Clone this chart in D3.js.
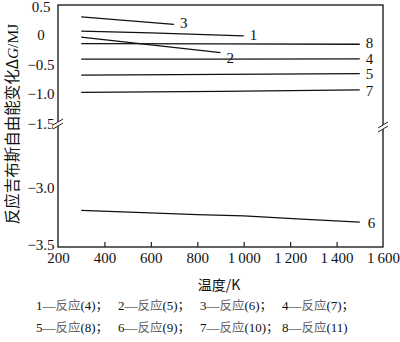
<!DOCTYPE html>
<html><head><meta charset="utf-8">
<script src="https://cdn.jsdelivr.net/npm/d3@7"></script>
<style>body{margin:0;background:#fff}svg{display:block}</style>
</head><body>
<svg id="c" width="400" height="342"></svg>
<script>
// ---- data ----
const xTicks = [200, 400, 600, 800, 1000, 1200, 1400, 1600];
const xTickLabels = ["200", "400", "600", "800", "1\u2009000", "1\u2009200", "1\u2009400", "1\u2009600"];
const yTopTicks = [0.5, 0, -0.5, -1.0, -1.5];
const yTopLabels = ["0.5", "0", "\u22120.5", "\u22121.0", "\u22121.5"];
const yBotTicks = [-3.0, -3.5];
const yBotLabels = ["\u22123.0", "\u22123.5"];
const seriesNames = ["1", "2", "3", "4", "5", "6", "7", "8"];
const s1T = [300, 600, 1000], s1V = [0.06, 0.03, -0.02];
const s2T = [300, 600, 900], s2V = [-0.04, -0.17, -0.30];
const s3T = [300, 700], s3V = [0.30, 0.175];
const s4T = [300, 900, 1500], s4V = [-0.41, -0.41, -0.405];
const s5T = [300, 900, 1500], s5V = [-0.68, -0.665, -0.655];
const s6T = [300, 800, 1000, 1250, 1500], s6V = [-3.19, -3.225, -3.237, -3.263, -3.29];
const s7T = [300, 900, 1500], s7V = [-0.97, -0.95, -0.925];
const s8T = [300, 900, 1500], s8V = [-0.15, -0.155, -0.16];
const legendRow1 = [["1", "(4)；"], ["2", "(5)；"], ["3", "(6)；"], ["4", "(7)；"]];
const legendRow2 = [["5", "(8)；"], ["6", "(9)；"], ["7", "(10)；"], ["8", "(11)"]];
const xTitle = "温度/K";
const yTitleCn = "反应吉布斯自由能变化";

// ---- layout ----
const L = 58, R = 383, T = 5, B = 247, BRK = 124;
const x = d3.scaleLinear().domain([200, 1600]).range([L, R]);
const yTop = d3.scaleLinear().domain([-1.5, 0.5]).range([BRK, T]);
const yBot = d3.scaleLinear().domain([-3.5, -3.0]).range([B, 188]);
const y = v => v >= -1.6 ? yTop(v) : yBot(v);

const serif = "'Liberation Serif','Times New Roman',serif";
const cjk = "'Noto Sans CJK SC','Liberation Serif',serif";
const svg = d3.select("#c");

// frame
const ax = "#222";
svg.append("rect").attr("x", L).attr("y", T).attr("width", R - L).attr("height", B - T)
  .attr("fill", "none").attr("stroke", ax).attr("stroke-width", 1.4);

// x ticks (inward) and labels
const xAxis = d3.axisBottom(x).tickValues(xTicks).tickSizeInner(-5).tickSizeOuter(0)
  .tickFormat((d, i) => xTickLabels[i]);
const gx = svg.append("g").attr("transform", `translate(0,${B})`).call(xAxis);
gx.select(".domain").remove();
gx.selectAll(".tick line").attr("stroke", ax).attr("stroke-width", 1.2)
  .filter(d => d === 200 || d === 1600).remove();
gx.selectAll(".tick text").attr("font-family", serif).attr("font-size", 15).attr("fill", "#111").attr("dy", 0).attr("y", 16);

// y labels
const yLab = svg.append("g").attr("font-family", serif).attr("font-size", 15).attr("fill", "#111").attr("text-anchor", "middle");
yTopTicks.forEach((t, i) => yLab.append("text").attr("x", 41).attr("y", yTop(t) + (i === 0 ? 7 : 5)).text(yTopLabels[i]));
yBotTicks.forEach((t, i) => yLab.append("text").attr("x", 41).attr("y", yBot(t) + (i === 1 ? 3 : 5)).text(yBotLabels[i]));

// break marks
function brk(cx, cy) {
  const g = svg.append("g");
  g.append("polygon").attr("points", `${cx-5},${cy+3} ${cx+5},${cy-3} ${cx+5},${cy+1} ${cx-5},${cy+7}`).attr("fill", "#fff");
  g.append("line").attr("x1", cx - 5).attr("y1", cy + 3).attr("x2", cx + 5).attr("y2", cy - 3).attr("stroke", ax).attr("stroke-width", 1);
  g.append("line").attr("x1", cx - 5).attr("y1", cy + 7).attr("x2", cx + 5).attr("y2", cy + 1).attr("stroke", ax).attr("stroke-width", 1);
}
brk(L, BRK - 2);
brk(R, BRK + 1);

// series
const allT = [s1T, s2T, s3T, s4T, s5T, s6T, s7T, s8T];
const allV = [s1V, s2V, s3V, s4V, s5V, s6V, s7V, s8V];
const line = d3.line().x(d => x(d[0])).y(d => y(d[1]));
const labOff = [[6, 4], [6, 10], [6, 4], [6, 5], [6, 5], [8, 6], [6, 6], [6, 4]];
allT.forEach((ts, i) => {
  const pts = ts.map((t, j) => [t, allV[i][j]]);
  svg.append("path").attr("d", line(pts)).attr("fill", "none").attr("stroke", "#111").attr("stroke-width", 1.3);
  const last = pts[pts.length - 1];
  svg.append("text").attr("x", x(last[0]) + labOff[i][0]).attr("y", y(last[1]) + labOff[i][1])
    .attr("font-family", serif).attr("font-size", 15).attr("fill", "#111").text(seriesNames[i]);
});

// axis titles
svg.append("text").attr("x", 219).attr("y", 290).attr("text-anchor", "middle")
  .attr("font-family", cjk).attr("font-size", 14).attr("fill", "#111").text(xTitle);
const yt = svg.append("text").attr("transform", "translate(18,124) rotate(-90)").attr("text-anchor", "middle")
  .attr("font-family", cjk).attr("font-size", 15.5).attr("fill", "#111");
yt.append("tspan").text(yTitleCn + "\u0394");
yt.append("tspan").attr("font-family", serif).attr("font-style", "italic").text("G");
yt.append("tspan").attr("font-family", serif).text("/MJ");

// legend
const legX = [36, 118, 200, 282];
function legRow(row, yy) {
  row.forEach((r, i) => {
    const t = svg.append("text").attr("x", legX[i]).attr("y", yy).attr("font-size", 13).attr("font-family", serif).attr("fill", "#111");
    t.append("tspan").text(r[0] + "\u2014");
    t.append("tspan").attr("font-family", cjk).attr("fill", "#666").attr("font-size", 12.5).text("反应");
    t.append("tspan").text(r[1].replace("；", ""));
    if (r[1].includes("；")) t.append("tspan").attr("font-family", cjk).attr("font-size", 12).text("；");
  });
}
legRow(legendRow1, 310);
legRow(legendRow2, 332);
</script>
</body></html>
